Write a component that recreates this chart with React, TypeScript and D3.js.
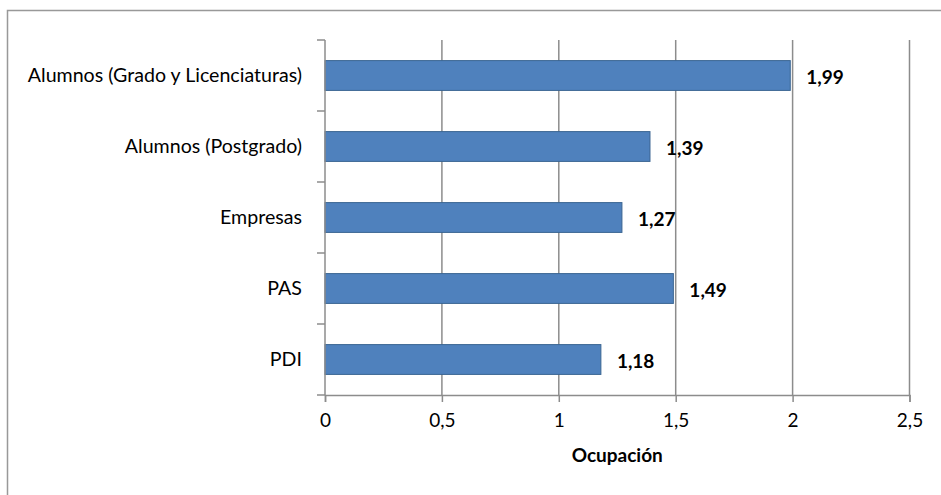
import { useEffect, useRef } from "react";
import * as d3 from "d3";

const categories = [
  "Alumnos (Grado y Licenciaturas)",
  "Alumnos (Postgrado)",
  "Empresas",
  "PAS",
  "PDI",
];
const values = [1.99, 1.39, 1.27, 1.49, 1.18];
const xTicks = [0, 0.5, 1, 1.5, 2, 2.5];
const xTitle = "Ocupación";

const fmt = (v: number) => String(v).replace(".", ",");

const App = () => {
  const ref = useRef<SVGSVGElement | null>(null);

  useEffect(() => {
    document.body.style.margin = "0";
    if (!ref.current) return;
    const svg = d3.select(ref.current);
    svg.selectAll("*").remove();

    const width = 941;
    const height = 495;
    const plot = { left: 325, right: 909.5, top: 40, bottom: 395 };
    const font = "Lato, 'Open Sans', sans-serif";
    const gridColor = "#8c8c8c";

    // outer chart border (only top/left visible, rest is cropped)
    svg
      .append("rect")
      .attr("x", 7.5)
      .attr("y", 10.5)
      .attr("width", width + 20)
      .attr("height", height + 20)
      .attr("fill", "white")
      .attr("stroke", "#999")
      .attr("stroke-width", 1.5);

    const x = d3.scaleLinear().domain([0, 2.5]).range([plot.left, plot.right]);
    const y = d3
      .scaleBand<string>()
      .domain(categories)
      .range([plot.top, plot.bottom])
      .paddingInner(0.58)
      .paddingOuter(0.29);
    const band = (plot.bottom - plot.top) / categories.length;

    // vertical gridlines
    svg
      .append("g")
      .selectAll("line")
      .data(xTicks.slice(1))
      .join("line")
      .attr("x1", (d) => x(d))
      .attr("x2", (d) => x(d))
      .attr("y1", plot.top)
      .attr("y2", plot.bottom)
      .attr("stroke", gridColor)
      .attr("stroke-width", 1.5);

    // bars
    svg
      .append("g")
      .selectAll("rect")
      .data(values)
      .join("rect")
      .attr("x", x(0))
      .attr("y", (_d, i) => y(categories[i])!)
      .attr("width", (d) => x(d) - x(0))
      .attr("height", y.bandwidth())
      .attr("fill", "#4f81bd")
      .attr("stroke", "#3a6592")
      .attr("stroke-width", 1);

    // value labels
    svg
      .append("g")
      .selectAll("text")
      .data(values)
      .join("text")
      .attr("x", (d) => x(d) + 16)
      .attr("y", (_d, i) => y(categories[i])! + y.bandwidth() / 2 + 1.5)
      .attr("dy", "0.35em")
      .attr("font-family", font)
      .attr("font-size", 19)
      .attr("font-weight", "bold")
      .attr("fill", "#000")
      .text((d) => fmt(d));

    // y axis line + ticks at band boundaries
    const yAxis = svg.append("g");
    yAxis
      .append("line")
      .attr("x1", plot.left)
      .attr("x2", plot.left)
      .attr("y1", plot.top)
      .attr("y2", plot.bottom)
      .attr("stroke", gridColor)
      .attr("stroke-width", 1.5);
    yAxis
      .selectAll("line.tick")
      .data(d3.range(categories.length + 1))
      .join("line")
      .attr("class", "tick")
      .attr("x1", plot.left - 8)
      .attr("x2", plot.left)
      .attr("y1", (i) => plot.top + i * band)
      .attr("y2", (i) => plot.top + i * band)
      .attr("stroke", gridColor)
      .attr("stroke-width", 1.5);
    yAxis
      .selectAll("text")
      .data(categories)
      .join("text")
      .attr("x", 302)
      .attr("y", (d) => y(d)! + y.bandwidth() / 2)
      .attr("dy", "0.35em")
      .attr("text-anchor", "end")
      .attr("font-family", font)
      .attr("font-size", 19.6)
      .attr("fill", "#000")
      .text((d) => d);

    // x axis
    svg
      .append("g")
      .attr("transform", `translate(0,${plot.bottom})`)
      .call(
        d3
          .axisBottom(x)
          .tickValues(xTicks)
          .tickSize(7)
          .tickPadding(12)
          .tickFormat((d) => fmt(d as number)) as any
      )
      .call((g) => g.select(".domain").attr("stroke", gridColor).attr("stroke-width", 1.5))
      .call((g) => g.selectAll(".tick line").attr("stroke", gridColor).attr("stroke-width", 1.5))
      .selectAll("text")
      .attr("font-family", font)
      .attr("font-size", 19)
      .attr("fill", "#000");

    // x title
    svg
      .append("text")
      .attr("x", (plot.left + plot.right) / 2)
      .attr("y", 462)
      .attr("text-anchor", "middle")
      .attr("font-family", font)
      .attr("font-size", 19)
      .attr("font-weight", "bold")
      .attr("fill", "#000")
      .text(xTitle);
  }, []);

  return <svg ref={ref} width={941} height={495} style={{ display: "block" }} />;
};

export default App;
